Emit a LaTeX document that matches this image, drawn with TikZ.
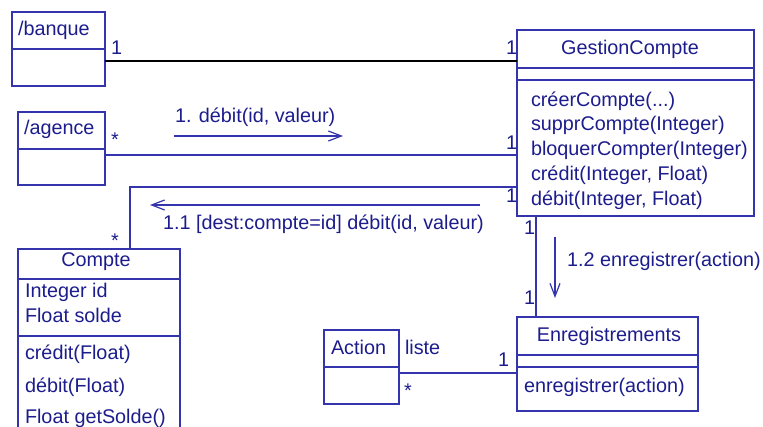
\documentclass[tikz,border=0pt]{standalone}
\usepackage{fontspec}
\setmainfont{Liberation Sans}
\usetikzlibrary{arrows.meta}
\definecolor{umlink}{RGB}{28,28,140}
\definecolor{umlline}{RGB}{52,52,172}

\begin{document}
\begin{tikzpicture}[x=1pt, y=-1pt,
  every node/.style = {text=umlink, inner sep=0, outer sep=0, font=\fontsize{19.8}{23}\selectfont},
  classbox/.style = {draw=umlline, line width=1.2pt, rectangle, anchor=north west},
  part/.style = {draw=umlline, line width=1.2pt},
  assoc/.style = {draw=umlline, line width=1.2pt},
  msg/.style = {draw=umlline, line width=1.2pt, -{Straight Barb[length=13pt,width=10pt]}},
  txt/.style = {anchor=base west},
  title/.style = {anchor=base},
  mult/.style = {anchor=base west}]
	\clip (0,0) rectangle (763,427);
	% classes
	\node[classbox, minimum width=93pt, minimum height=74pt] (banque) at (12,12) {};
	\node[classbox, minimum width=87pt, minimum height=73pt] (agence) at (18,112) {};
	\node[classbox, minimum width=237pt, minimum height=186pt] (gestion) at (517,30) {};
	\node[classbox, minimum width=162pt, minimum height=200pt] (compte) at (18,249) {};
	\node[classbox, minimum width=181pt, minimum height=94pt] (enreg) at (517,317) {};
	\node[classbox, minimum width=75pt, minimum height=74pt] (action) at (324,330) {};
	\draw[part] (banque.west |- 0,49) -- (banque.east |- 0,49);
	\draw[part] (agence.west |- 0,149) -- (agence.east |- 0,149);
	\draw[part] (gestion.west |- 0,68) -- (gestion.east |- 0,68);
	\draw[part] (gestion.west |- 0,80) -- (gestion.east |- 0,80);
	\draw[part] (compte.west |- 0,279) -- (compte.east |- 0,279);
	\draw[part] (compte.west |- 0,336) -- (compte.east |- 0,336);
	\draw[part] (enreg.west |- 0,355) -- (enreg.east |- 0,355);
	\draw[part] (enreg.west |- 0,367) -- (enreg.east |- 0,367);
	\draw[part] (action.west |- 0,367) -- (action.east |- 0,367);
	% class texts
	\node[txt] (tbanque) at (18,36) {/banque};
	\node[txt] (tagence) at (24,135) {/agence};
	\node[title] (tgestion) at (630,55) {GestionCompte};
	\node[txt] (gcreer) at (531,107) {créerCompte(...)};
	\node[txt] (gsuppr) at (531,131) {supprCompte(Integer)};
	\node[txt] (gbloquer) at (531,156) {bloquerCompter(Integer)};
	\node[txt] (gcredit) at (531,181) {crédit(Integer, Float)};
	\node[txt] (gdebit) at (531,206) {débit(Integer, Float)};
	\node[title] (tcompte) at (96,267) {Compte};
	\node[txt] (cid) at (25,298) {Integer id};
	\node[txt] (csolde) at (25,323) {Float solde};
	\node[txt] (ccredit) at (25,360) {crédit(Float)};
	\node[txt] (cdebit) at (25,392) {débit(Float)};
	\node[txt] (cget) at (25,423) {Float getSolde()};
	\node[title] (tenreg) at (609,342) {Enregistrements};
	\node[txt] (eenreg) at (524,392) {enregistrer(action)};
	\node[txt] (taction) at (331,355) {Action};
	% associations
	\draw[assoc, draw=black] ([yshift=-12pt]banque.east) -- ([yshift=-12pt]banque.east -| gestion.west);
	\draw[assoc] ([yshift=-6.5pt]agence.east) -- ([yshift=-6.5pt]agence.east -| gestion.west);
	\draw[assoc] ([yshift=29pt]gestion.south west) -| ([xshift=112pt]compte.north west);
	\draw[assoc] ([xshift=19pt]gestion.south west) -- ([xshift=19pt]enreg.north west);
	\draw[assoc] ([yshift=-6pt]action.east) -- ([yshift=-6pt]action.east -| enreg.west);
	% multiplicities
	\node[mult] (mb1) at (111,55) {1};
	\node[mult] (mb2) at (506,55) {1};
	\node[mult] (ma1) at (111,147) {*};
	\node[mult] (ma2) at (506,150) {1};
	\node[mult] (mc1) at (111,247.5) {*};
	\node[mult] (mc2) at (506,203) {1};
	\node[mult] (me1) at (524,235) {1};
	\node[mult] (me2) at (524,305) {1};
	\node[mult] (ml1) at (498,367) {1};
	\node[mult] (ml2) at (404,398) {*};
	\node[txt] (liste) at (405,355) {liste};
	% messages
	\coordinate (msgAfrom) at (174,136);
	\coordinate (msgAto) at (343,136);
	\coordinate (msgBfrom) at (480,205);
	\coordinate (msgBto) at (150,205);
	\coordinate (msgCfrom) at (555,237);
	\coordinate (msgCto) at (555,298);
	\draw[msg] (msgAfrom) -- (msgAto);
	\draw[msg] (msgBfrom) -- (msgBto);
	\draw[msg] (msgCfrom) -- (msgCto);
	\node[txt] (lmsgA) at (175,123) {1. débit(id, valeur)};
	\node[txt] (lmsgB) at (163,230) {1.1 [dest:compte=id] débit(id, valeur)};
	\node[txt] (lmsgC) at (567,267) {1.2 enregistrer(action)};
\end{tikzpicture}
\end{document}
